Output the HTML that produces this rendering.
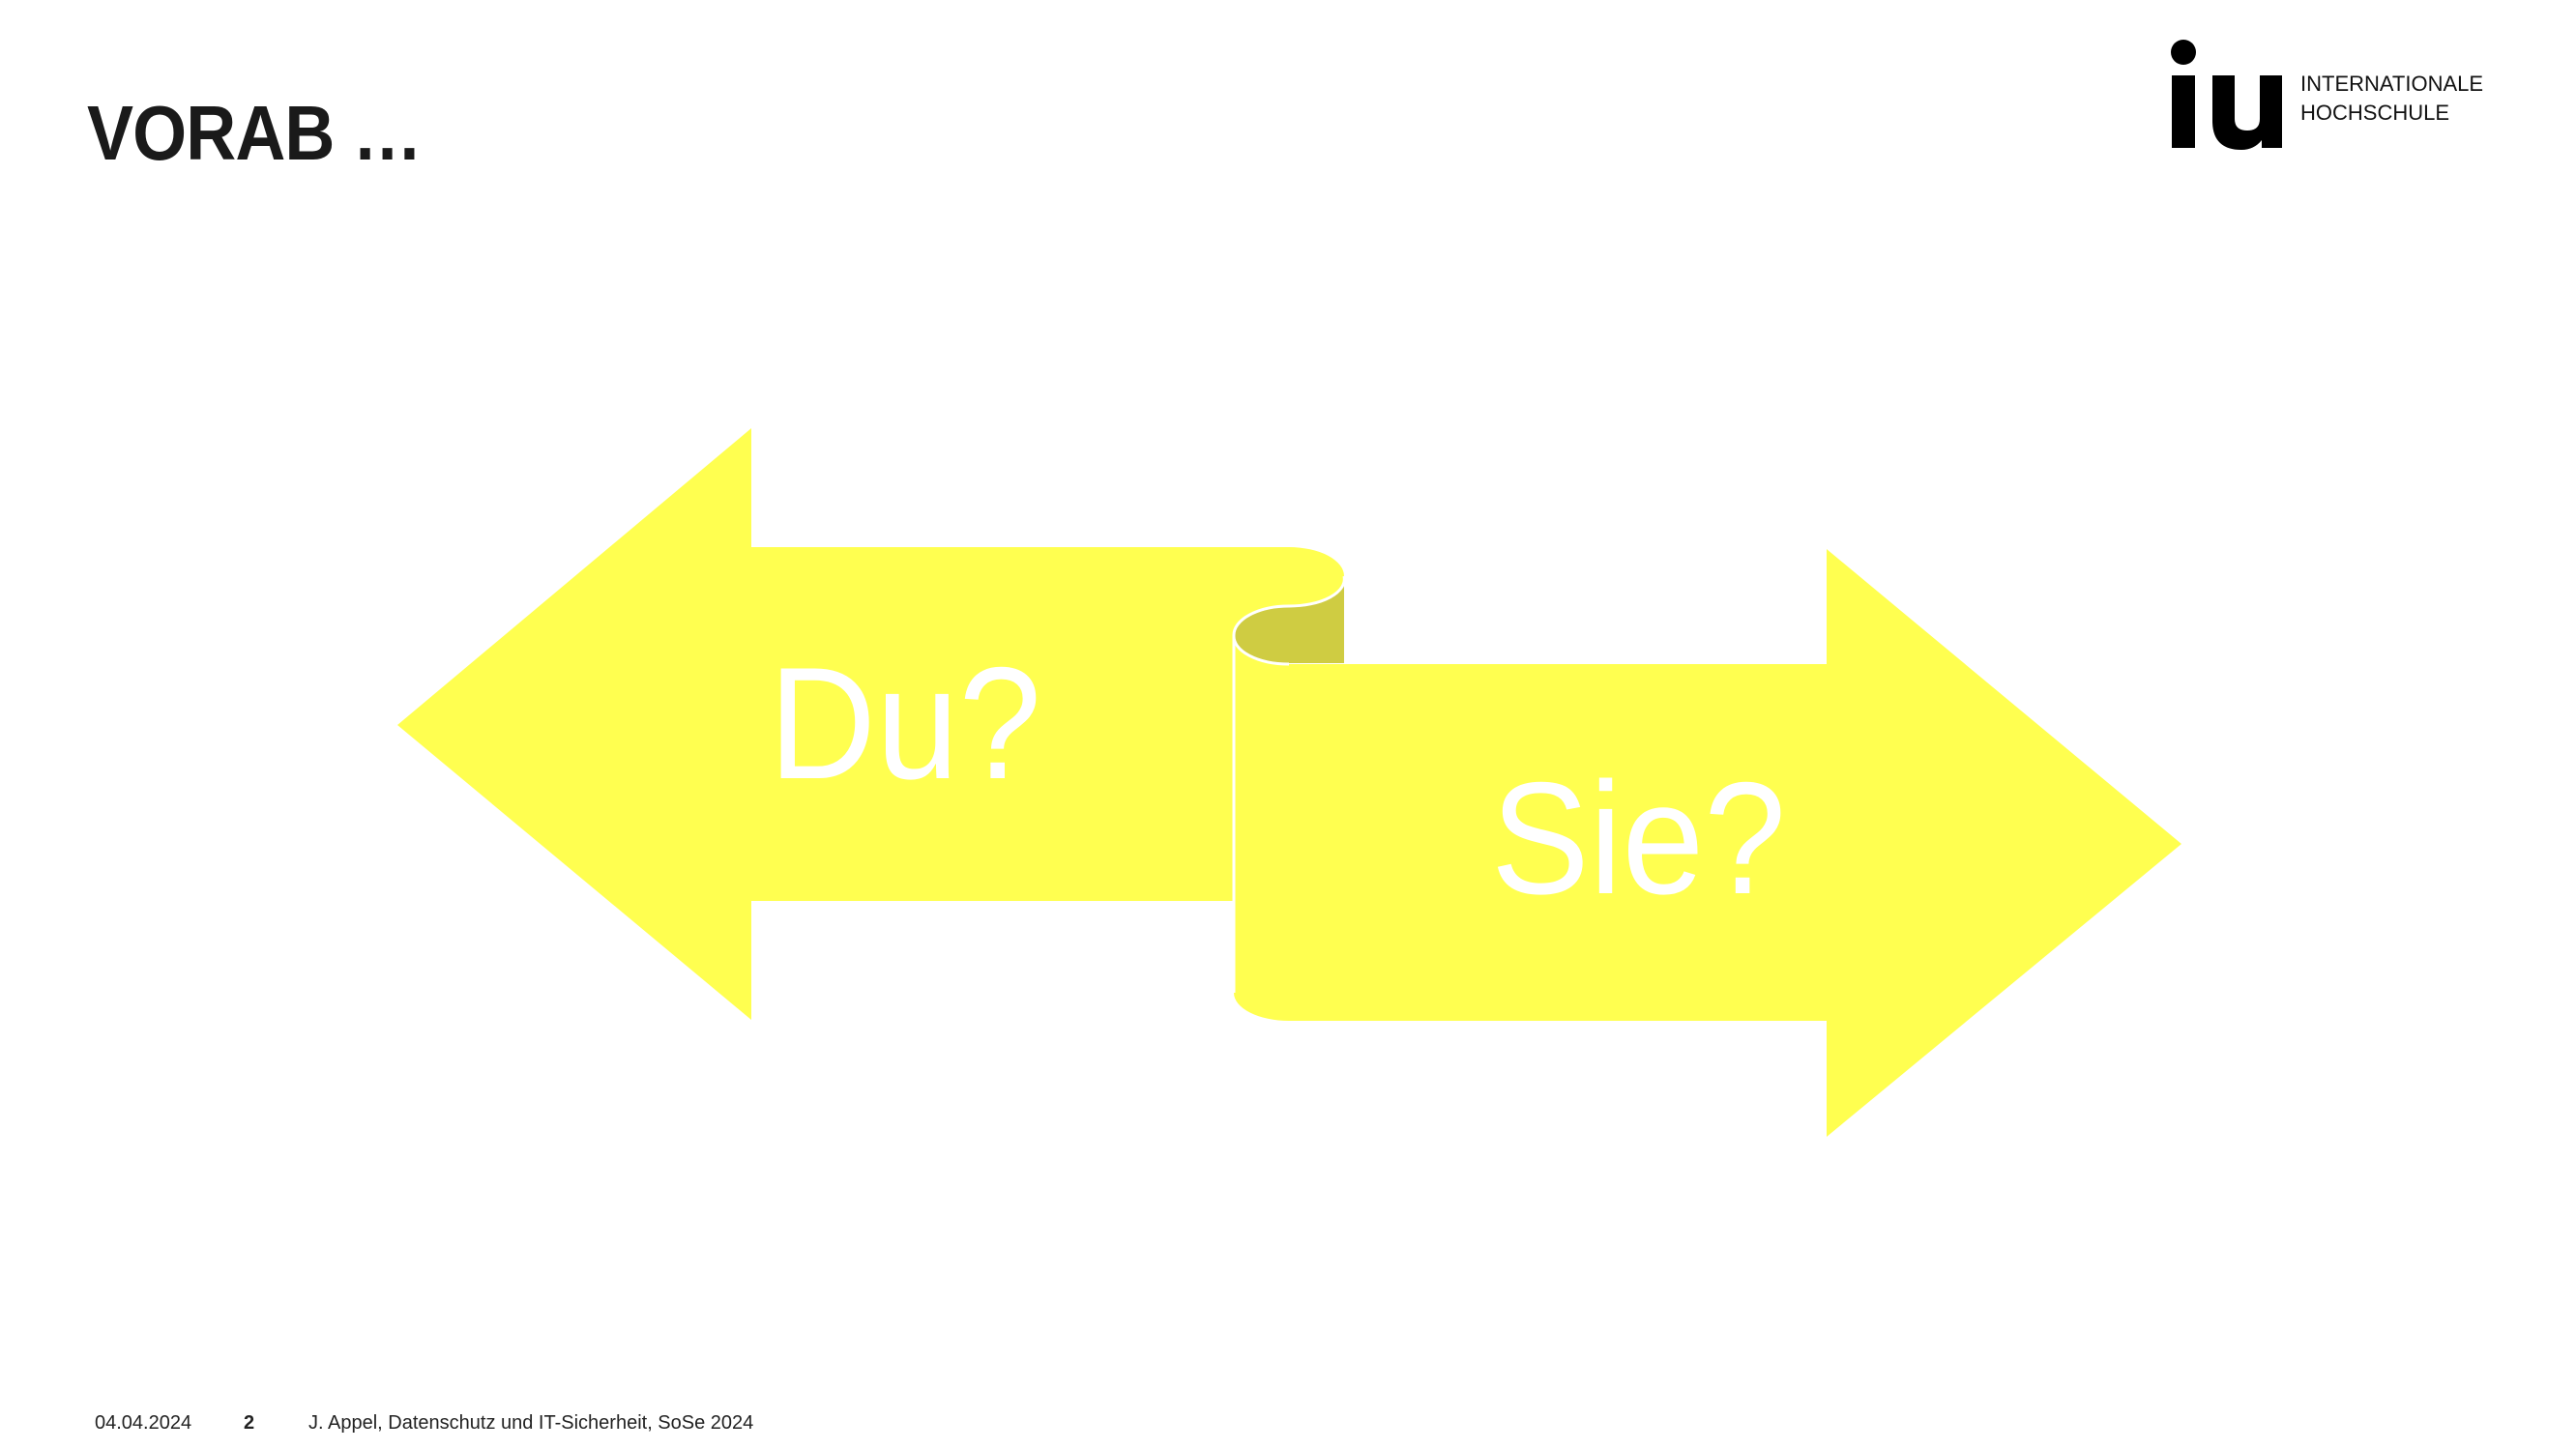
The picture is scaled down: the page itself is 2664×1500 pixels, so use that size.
<!DOCTYPE html>
<html><head><meta charset="utf-8"><style>
html,body{margin:0;padding:0;background:#fff}
body{width:2664px;height:1500px;position:relative;overflow:hidden;font-family:"Liberation Sans",sans-serif}
.t{position:absolute;white-space:nowrap}
</style></head><body>
<div class="t" style="left:90px;top:92px;font-size:80px;font-weight:bold;color:#1a1a1a;letter-spacing:-1px;transform:scaleX(0.9);transform-origin:0 0">VORAB …</div>
<svg width="2664" height="1500" style="position:absolute;left:0;top:0">
<path d="M411,750 L777,443 L777,566 L1333,566 A57,30 0 0 1 1390,596 A57,28 0 0 1 1333,627 A57,30 0 0 0 1276,657 L1276,932 L777,932 L777,1055 Z" fill="#ffff50"/>
<path d="M1390,596 L1390,686 L1333,686 A57,29 0 0 1 1276,657 A57,30 0 0 1 1333,627 A57,28 0 0 0 1390,596 Z" fill="#cfcc42"/>
<path d="M1276,657 A57,29 0 0 0 1333,687 L1889,687 L1889,568 L2256,873 L1889,1176 L1889,1056 L1333,1056 A57,29 0 0 1 1276,1027 Z" fill="#ffff50"/>
<path d="M1390,596 A57,28 0 0 1 1333,627 A57,30 0 0 0 1276,657 A57,29 0 0 0 1333,687 M1276,657 L1276,1027" fill="none" stroke="#fff" stroke-width="3"/>
<text x="795" y="805" font-family="Liberation Sans" font-size="165" fill="#fff" textLength="282" lengthAdjust="spacingAndGlyphs">Du?</text>
<text x="1542" y="924" font-family="Liberation Sans" font-size="165" fill="#fff" textLength="305" lengthAdjust="spacingAndGlyphs">Sie?</text>
<circle cx="2258" cy="54" r="13" fill="#000"/>
<rect x="2246" y="78" width="24" height="75" fill="#000"/>
<path d="M2288,78 h23 v45 q0,12 13,12 q13,0 13,-12 v-45 h23 v75 h-21 v-8 q-8,10 -21,10 q-30,0 -30,-30 Z" fill="#000"/>
<text x="2379" y="94" font-family="Liberation Sans" font-size="22" fill="#111">INTERNATIONALE</text>
<text x="2379" y="124" font-family="Liberation Sans" font-size="22" fill="#111">HOCHSCHULE</text>
</svg>
<div class="t" style="left:98px;top:1461px;font-size:20px;color:#222">04.04.2024</div>
<div class="t" style="left:252px;top:1461px;font-size:20px;color:#222;font-weight:bold">2</div>
<div class="t" style="left:319px;top:1461px;font-size:20px;color:#222">J. Appel, Datenschutz und IT-Sicherheit, SoSe 2024</div>
</body></html>
